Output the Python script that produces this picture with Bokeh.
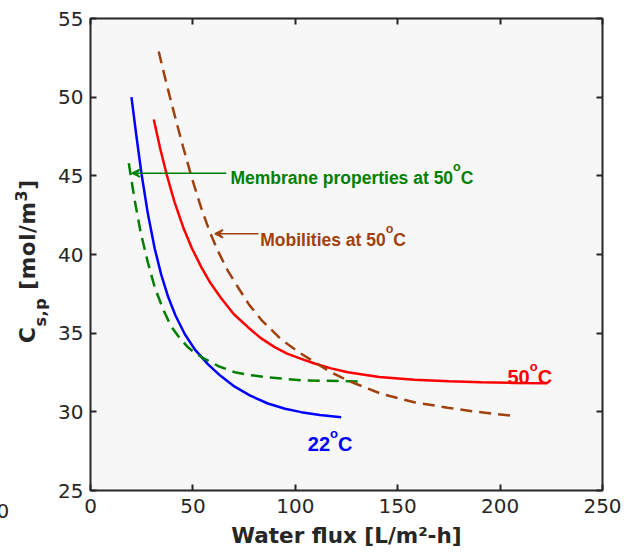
from bokeh.plotting import figure
from bokeh.layouts import row
from bokeh.models import (Range1d, FixedTicker, LinearAxis, Label, Arrow, VeeHead,
                          CustomLabelingPolicy, Div)
from bokeh.embed import file_html
from bokeh.resources import INLINE

# ---------------- data ----------------
flux_22 = [20.0, 22.5, 24.9, 28.0, 31.4, 34.5, 37.9, 41.5, 46.0, 51.0, 57.4,
           63.5, 70.4, 78.0, 86.6, 95.0, 102.9, 112.0, 122.4]
cs_22 = [50.0, 47.45, 45.13, 42.6, 40.35, 38.74, 37.31, 36.12, 34.95, 33.95, 33.02,
         32.29, 31.6, 31.03, 30.53, 30.2, 29.98, 29.8, 29.66]

flux_50 = [30.9, 34.0, 37.1, 41.0, 45.2, 49.5, 54.1, 58.5, 63.9, 70.0, 76.9,
           83.0, 89.9, 96.0, 102.9, 109.4, 117.0, 125.6, 141.0, 158.1, 175.0,
           190.6, 207.0, 223.1]
cs_50 = [48.58, 46.75, 45.13, 43.35, 41.75, 40.4, 39.2, 38.2, 37.2, 36.2, 35.38,
         34.7, 34.11, 33.7, 33.37, 33.07, 32.78, 32.52, 32.22, 32.04, 31.94,
         31.88, 31.84, 31.82]

flux_mem = [18.7, 21.5, 24.5, 28.0, 31.4, 35.5, 39.5, 43.5, 47.6, 51.5, 55.7,
            62.5, 70.4, 78.0, 86.6, 102.9, 115.0, 125.6, 131.3]
cs_mem = [45.8, 43.5, 41.4, 39.5, 37.9, 36.5, 35.4, 34.7, 34.1, 33.7, 33.37,
          32.9, 32.52, 32.33, 32.2, 32.0, 31.97, 31.95, 31.93]

flux_mob = [33.3, 36.0, 38.7, 42.0, 45.2, 49.5, 54.1, 58.2, 62.3, 67.0, 72.0,
            77.5, 83.4, 93.1, 102.9, 109.4, 117.0, 125.6, 141.9, 158.1, 174.4,
            187.4, 207.7]
cs_mob = [52.9, 51.45, 50.05, 48.4, 46.85, 44.85, 42.95, 41.45, 40.2, 38.98, 37.92,
          36.8, 35.85, 34.6, 33.69, 33.16, 32.55, 31.99, 31.15, 30.61, 30.26,
          30.02, 29.72]

x_ticks = [0, 50, 100, 150, 200, 250]
y_ticks = [25, 30, 35, 40, 45, 50, 55]

x_title = "Water flux [L/m\u00b2-h]"
y_title_main, y_title_sub, y_title_unit, y_title_sup = "C", "s,p", " [mol/m", "3"
stray_label = "0"  # partly cut-off tick label at the far left of the reference

# annotation anchors (data units)
mem_text_xy = (68.3, 44.88)
mem_arrow = (66.3, 45.17, 20.3, 45.17)
mob_text_xy = (82.9, 40.93)
mob_arrow = (82.0, 41.32, 60.8, 41.32)
lbl22_xy = (106.1, 27.97)
lbl50_xy = (203.6, 32.2)

BLUE = "#0000ff"
RED = "#ff0000"
GREEN = "#008000"
BROWN = "#a0410d"
AX = "#262626"

H = 558
TW = 55  # width of the strip that carries the y title

p = figure(width=630 - TW, height=H, output_backend="svg", toolbar_location=None,
           x_range=Range1d(0, 250), y_range=Range1d(25, 55),
           min_border_left=89 - TW, min_border_right=28, min_border_top=18,
           min_border_bottom=68)
p.background_fill_color = "#f7f7f7"
p.border_fill_color = "white"
p.outline_line_color = AX
p.outline_line_width = 2
p.grid.visible = False

p.add_layout(LinearAxis(), "above")
p.add_layout(LinearAxis(), "right")

for ax in p.xaxis:
    ax.ticker = FixedTicker(ticks=x_ticks)
for ax in p.yaxis:
    ax.ticker = FixedTicker(ticks=y_ticks)

for ax in p.xaxis + p.yaxis:
    ax.axis_line_color = None
    ax.major_tick_in = 6
    ax.major_tick_out = 0
    ax.minor_tick_line_color = None
    ax.major_tick_line_color = AX
    ax.major_tick_line_width = 2
    ax.major_label_text_font = "DejaVu Sans"
    ax.major_label_text_font_size = "20px"
    ax.major_label_text_color = AX
    ax.axis_label_text_font = "DejaVu Sans"
    ax.axis_label_text_font_style = "bold"
    ax.axis_label_text_font_size = "21.5px"
    ax.axis_label_text_color = AX

for ax in (p.above[0], p.right[0]):
    ax.major_label_text_font_size = "0px"
    ax.major_label_standoff = 0
    ax.major_label_policy = CustomLabelingPolicy(code="return []")

p.below[0].major_label_standoff = 8
p.left[0].major_label_standoff = 7
p.below[0].axis_label = x_title
p.below[0].axis_label_standoff = 7

# ---------------- curves ----------------
p.line(flux_22, cs_22, line_color=BLUE, line_width=2.5)
p.line(flux_50, cs_50, line_color=RED, line_width=2.5)
p.line(flux_mem, cs_mem, line_color=GREEN, line_width=2.5, line_dash="12 7")
p.line(flux_mob, cs_mob, line_color=BROWN, line_width=2.5, line_dash="12 7")

# ---------------- arrows ----------------
p.add_layout(Arrow(end=VeeHead(size=8, fill_color=GREEN, line_color=GREEN, line_width=1.5),
                   x_start=mem_arrow[0], y_start=mem_arrow[1],
                   x_end=mem_arrow[2], y_end=mem_arrow[3],
                   line_color=GREEN, line_width=1.5))
p.add_layout(Arrow(end=VeeHead(size=8, fill_color=BROWN, line_color=BROWN, line_width=1.5),
                   x_start=mob_arrow[0], y_start=mob_arrow[1],
                   x_end=mob_arrow[2], y_end=mob_arrow[3],
                   line_color=BROWN, line_width=1.5))

# ---------------- annotation texts with superscript "o" ----------------
FONT = "Liberation Sans"
SUP_RAISE = 0.68  # data units


def deg_text(xy, main, color, size, main_w_em, sup_size):
    x, y = xy
    p.add_layout(Label(x=x, y=y, text=main, text_font=FONT, text_font_style="bold",
                       text_font_size=f"{size}px", text_color=color,
                       text_align="left", text_baseline="alphabetic"))
    w = main_w_em * size
    p.add_layout(Label(x=x, y=y + SUP_RAISE, x_offset=w, text="o", text_font=FONT,
                       text_font_style="bold", text_font_size=f"{sup_size}px",
                       text_color=color, text_align="left", text_baseline="alphabetic"))
    p.add_layout(Label(x=x, y=y, x_offset=w + 0.611 * sup_size, text="C", text_font=FONT,
                       text_font_style="bold", text_font_size=f"{size}px",
                       text_color=color, text_align="left", text_baseline="alphabetic"))


deg_text(mem_text_xy, "Membrane properties at 50", GREEN, 17.5, 12.726, 12.5)
deg_text(mob_text_xy, "Mobilities at 50", BROWN, 17.5, 7.169, 12.5)
deg_text(lbl22_xy, "22", BLUE, 20, 1.112, 13)
deg_text(lbl50_xy, "50", RED, 20, 1.112, 13)

# ---------------- y title (rotated HTML text with sub/superscript) ----------------
y_html = (
    f'<div style="position:relative;width:{TW}px;height:{H}px;">'
    '<div style="position:absolute;left:17.3px;top:343px;transform-origin:0 0;'
    'transform:rotate(-90deg);white-space:nowrap;font-family:\'DejaVu Sans\';'
    'font-weight:bold;font-size:21.5px;line-height:1;color:#262626;'
    'letter-spacing:0.6px;">'
    f'{y_title_main}<span style="font-size:16px;position:relative;top:10.5px;">'
    f'{y_title_sub}</span>{y_title_unit}'
    f'<span style="font-size:16px;position:relative;top:-8.5px;">{y_title_sup}</span>]'
    '</div>'
    '<div style="position:absolute;left:-3.5px;top:500.5px;white-space:nowrap;'
    'font-family:\'DejaVu Sans\';font-size:20px;line-height:1;color:#262626;">'
    f'{stray_label}</div>'
    '</div>'
)
yt = Div(text=y_html, width=TW, height=H, margin=0)

layout = row(yt, p, spacing=0)
open("out.html", "w").write(file_html(layout, INLINE))
